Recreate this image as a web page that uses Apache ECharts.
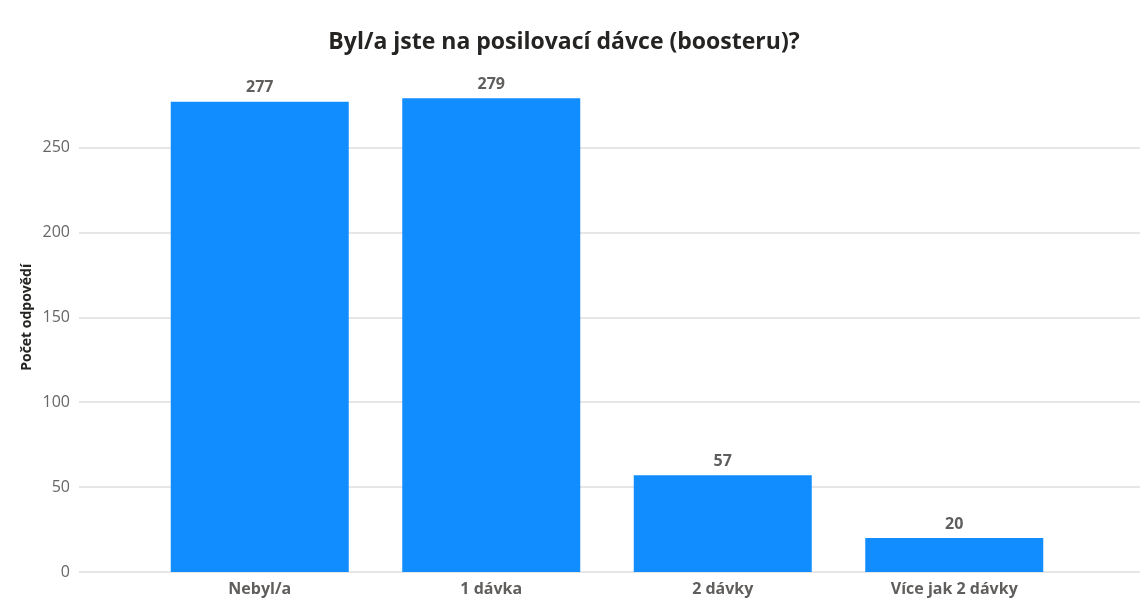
<!DOCTYPE html>
<html>
<head>
<meta charset="utf-8">
<script src="https://cdn.jsdelivr.net/npm/echarts@6/dist/echarts.min.js"></script>
<style>html,body{margin:0;padding:0;background:#fff}#c{width:1140px;height:600px}</style>
</head>
<body>
<div id="c"></div>
<script>
const titleText = 'Byl/a jste na posilovací dávce (boosteru)?';
const yAxisName = 'Počet odpovědí';
const categories = ['Nebyl/a', '1 dávka', '2 dávky', 'Více jak 2 dávky'];
const values = [277, 279, 57, 20];
const yTicks = [0, 50, 100, 150, 200, 250];

const chart = echarts.init(document.getElementById('c'));
const font = '"Open Sans", "Noto Sans", sans-serif';
chart.setOption({
  animation: false,
  backgroundColor: '#fff',
  title: {
    text: titleText, left: 559, top: 26, textAlign: 'center',
    textStyle: { fontFamily: font, fontSize: 23, fontWeight: 'bold', color: '#252423' }
  },
  grid: [
    { left: 144, right: 70, top: 62.6, bottom: 28 },
    { left: 79, right: 0, top: 147.5, bottom: 28 }
  ],
  xAxis: [
    { type: 'category', data: categories, gridIndex: 0,
      axisLine: { show: false }, axisTick: { show: false },
      axisLabel: { margin: 9, fontFamily: font, fontSize: 16, fontWeight: 'bold', color: '#605e5c' } },
    { type: 'value', gridIndex: 1, show: false, min: 0, max: 1 }
  ],
  yAxis: [
    { type: 'value', gridIndex: 0, min: 0, max: 300,
      name: yAxisName, nameLocation: 'middle', nameGap: 110,
      nameTextStyle: { fontFamily: font, fontSize: 14, fontWeight: 'bold', color: '#252423' },
      axisLabel: { show: false }, splitLine: { show: false }, axisLine: { show: false }, axisTick: { show: false } },
    { type: 'value', gridIndex: 1, min: yTicks[0], max: yTicks[yTicks.length - 1], interval: 50,
      axisLine: { show: false }, axisTick: { show: false },
      axisLabel: { margin: 9, fontFamily: font, fontSize: 16, color: '#666' },
      splitLine: { lineStyle: { color: '#e6e6e6', width: 2 } } }
  ],
  series: [{
    type: 'bar', xAxisIndex: 0, yAxisIndex: 0, data: values,
    barWidth: 178, z: 3,
    itemStyle: { color: '#118DFF' },
    label: { show: true, position: 'top', distance: 6,
      fontFamily: font, fontSize: 16, fontWeight: 'bold', color: '#605e5c' }
  }]
});
</script>
</body>
</html>
